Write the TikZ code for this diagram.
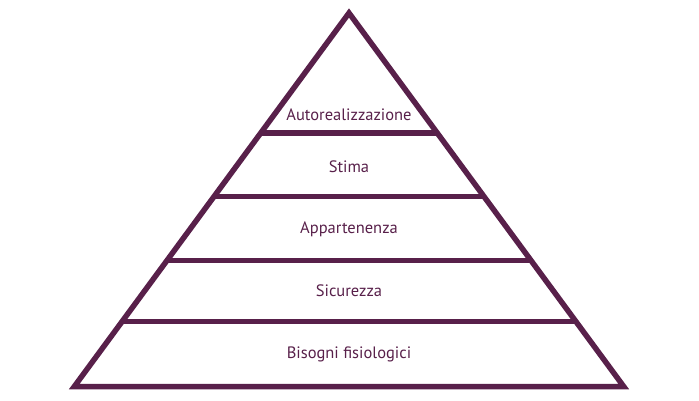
\documentclass[tikz,border=0pt]{standalone}
\usepackage{fontspec}
\setmainfont{PT Sans}
\usetikzlibrary{calc}
\definecolor{pyramidPlum}{HTML}{58204A}

\begin{document}
\begin{tikzpicture}[x=1pt, y=1pt, line join=miter,
      edge/.style={draw=pyramidPlum, line width=5.5pt},
      tier/.style={font=\fontsize{16.5}{18}\selectfont, text=pyramidPlum, inner sep=0pt}]
    \useasboundingbox (0,0) rectangle (699,400);
    % ---- outline
    \coordinate (apex) at (349,387);
    \coordinate (bl) at (74.3,13.5);
    \coordinate (br) at (623.7,13.5);
    \draw[edge] (apex) -- (br) -- (bl) -- cycle;
    % ---- tier lines
    \foreach \y in {267,203.5,139.5,78.5} {
      \draw[edge] ($(apex)!{(387-\y)/373.5}!(bl)$) -- ($(apex)!{(387-\y)/373.5}!(br)$);
    }
    % ---- labels
    \node[tier] (self) at (349,285) {Autorealizzazione};
    \node[tier] (esteem) at (349,233) {Stima};
    \node[tier] (belong) at (349,171) {Appartenenza};
    \node[tier] (safety) at (349,109) {Sicurezza};
    \node[tier] (body) at (349,46) {Bisogni fisiologici};
\end{tikzpicture}
\end{document}
